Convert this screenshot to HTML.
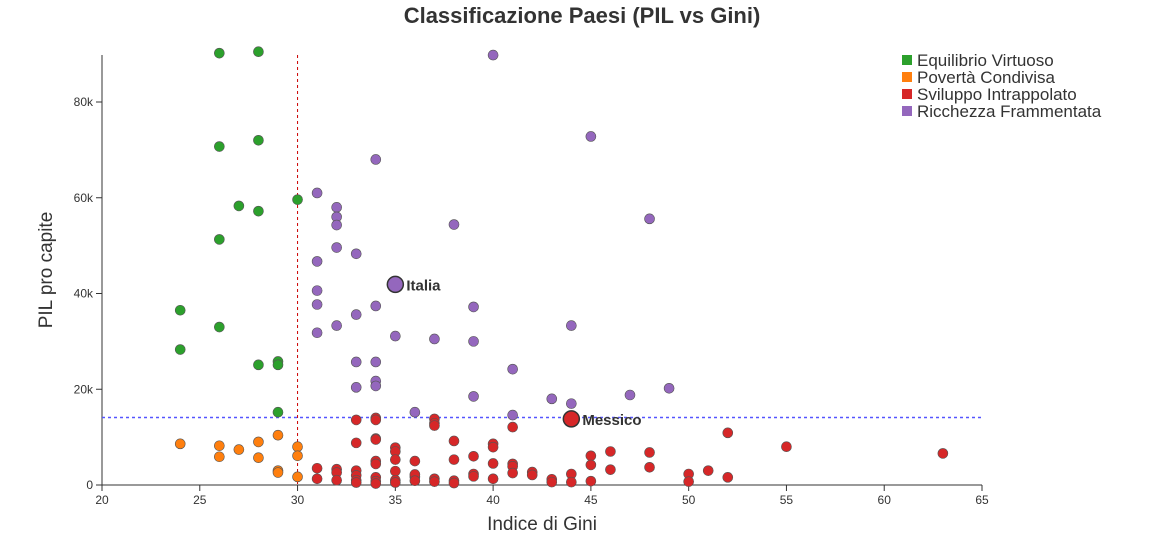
<!DOCTYPE html>
<html><head><meta charset="utf-8"><style>
body{margin:0;background:#fff;font-family:"Liberation Sans",sans-serif}
svg text{font-family:"Liberation Sans",sans-serif}
</style></head><body>
<svg id="chart" width="1164" height="545" xmlns="http://www.w3.org/2000/svg">
<text x="582" y="23" text-anchor="middle" font-size="22" font-weight="bold" fill="#333">Classificazione Paesi (PIL vs Gini)</text>
<g id="axes"></g>
<g id="marks"></g>
<text x="542" y="530" text-anchor="middle" font-size="19" fill="#333">Indice di Gini</text>
<text transform="translate(52,270) rotate(-90)" text-anchor="middle" font-size="19" fill="#333">PIL pro capite</text>
<g font-size="17" fill="#333">
<rect x="902" y="55" width="10" height="10" fill="#2ca02c"/><text x="917" y="66">Equilibrio Virtuoso</text>
<rect x="902" y="72" width="10" height="10" fill="#ff7f0e"/><text x="917" y="83">Povertà Condivisa</text>
<rect x="902" y="89" width="10" height="10" fill="#d62728"/><text x="917" y="100">Sviluppo Intrappolato</text>
<rect x="902" y="106" width="10" height="10" fill="#9467bd"/><text x="917" y="117">Ricchezza Frammentata</text>
</g>
</svg>
<script>
const xTicks=[20,25,30,35,40,45,50,55,60,65];
const yTicks=[0,20,40,60,80];
const yTickLabels=["0","20k","40k","60k","80k"];
const giniThreshold=30;
const gdpThreshold=14.1;
const green=[[26,90.2],[28,90.5],[26,70.7],[28,72],[27,58.3],[28,57.2],[30,59.6],[26,51.3],[24,36.5],[26,33],[24,28.3],[28,25.1],[29,25.8],[29,25.1],[29,15.2]];
const orange=[[24,8.6],[26,8.2],[26,5.9],[27,7.4],[28,9.0],[28,5.7],[29,10.4],[29,3.0],[29,2.6],[30,8.0],[30,6.1],[30,1.7]];
const purple=[[40,89.8],[45,72.8],[34,68],[31,61],[32,58],[32,56],[32,54.3],[38,54.4],[48,55.6],[32,49.6],[33,48.3],[31,46.7],[31,40.6],[31,37.7],[34,37.4],[39,37.2],[33,35.6],[32,33.3],[44,33.3],[31,31.8],[35,31.1],[37,30.5],[39,30],[33,25.7],[34,25.7],[41,24.2],[34,21.7],[34,20.7],[33,20.4],[49,20.2],[47,18.8],[39,18.5],[43,18],[44,17],[36,15.2],[41,14.6]];
const red=[[33,13.6],[34,14],[34,13.6],[37,13.8],[37,12.9],[37,12.4],[41,12.1],[52,10.9],[33,8.8],[34,9.7],[34,9.5],[38,9.2],[40,8.6],[40,7.9],[35,7.8],[35,7.0],[46,7.0],[48,6.8],[63,6.6],[55,8.0],[39,6.0],[45,6.1],[35,5.3],[36,5.0],[34,5.0],[34,4.4],[38,5.3],[40,4.5],[41,4.4],[41,3.9],[45,4.2],[46,3.2],[48,3.7],[51,3.0],[50,2.3],[31,3.5],[32,3.3],[32,2.6],[33,3.0],[33,2.0],[34,1.6],[35,2.9],[36,1.7],[36,2.2],[37,1.3],[37,0.7],[38,0.9],[38,0.4],[39,2.3],[39,1.8],[40,1.3],[41,2.5],[42,2.7],[42,2.1],[43,1.2],[43,0.6],[44,2.3],[44,0.6],[45,0.8],[50,0.7],[52,1.6],[31,1.3],[32,1.0],[33,1.0],[34,0.8],[34,0.3],[35,1.0],[35,0.5],[36,0.9],[33,0.5]];
const highlights=[["Italia",35,41.9,"#9467bd"],["Messico",44,13.8,"#d62728"]];
const X=v=>102+(v-20)*880/45;
const Y=v=>485-v*383/80;
const NS="http://www.w3.org/2000/svg";
function mk(tag,attrs,parent,text){const e=document.createElementNS(NS,tag);for(const k in attrs)e.setAttribute(k,attrs[k]);if(text!==undefined)e.textContent=text;parent.appendChild(e);return e;}
const axes=document.getElementById('axes'),marks=document.getElementById('marks');
let a=mk('line',{x1:102,x2:982,y1:485,y2:485,stroke:'#333'},axes);


a=mk('line',{x1:102,x2:102,y1:55,y2:485,stroke:'#333'},axes);


xTicks.forEach(t=>{mk('line',{x1:X(t),x2:X(t),y1:485,y2:491,stroke:'#333'},axes);
const l=mk('text',{x:X(t),y:504,'text-anchor':'middle','font-size':12,fill:'#333'},axes,String(t));

});
yTicks.forEach((t,i)=>{mk('line',{x1:96,x2:102,y1:Y(t),y2:Y(t),stroke:'#333'},axes);
const l=mk('text',{x:93,y:Y(t)+4,'text-anchor':'end','font-size':12,fill:'#333'},axes,yTickLabels[i]);

});
let r=mk('line',{x1:X(giniThreshold),x2:X(giniThreshold),y1:55,y2:485,stroke:'#c00','stroke-dasharray':'3,3','stroke-width':1},axes);


r=mk('line',{x1:102,x2:982,y1:Y(gdpThreshold),y2:Y(gdpThreshold),stroke:'#55f','stroke-dasharray':'3,3','stroke-width':1.5},axes);


[[green,'#2ca02c','green'],[orange,'#ff7f0e','orange'],[red,'#d62728','red'],[purple,'#9467bd','purple']].forEach(([arr,c,n])=>{
arr.forEach(p=>{const d=mk('circle',{cx:X(p[0]),cy:Y(p[1]),r:5,fill:c,stroke:'#555','stroke-width':0.6},marks);

});});
highlights.forEach(h=>{const d=mk('circle',{cx:X(h[1]),cy:Y(h[2]),r:8,fill:h[3],stroke:'#333','stroke-width':1.5},marks);


const t=mk('text',{x:X(h[1])+11,y:Y(h[2])+6,'font-size':15,'font-weight':'bold',fill:'#333'},marks,h[0]);

});
</script>
</body></html>
